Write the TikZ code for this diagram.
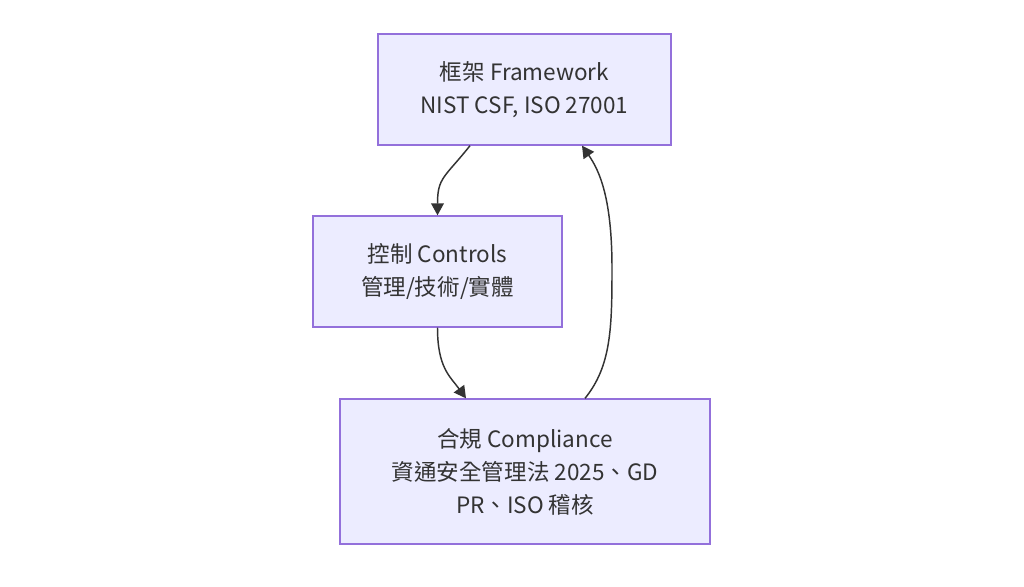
\documentclass[tikz,border=0pt]{standalone}
\usepackage{fontspec}
\setmainfont{Noto Sans CJK TC}
\usepackage{tikz}
\usetikzlibrary{arrows.meta,calc,positioning}
\definecolor{BoxFill}{HTML}{ECECFF}
\definecolor{BoxLine}{HTML}{9370DB}
\definecolor{InkGrey}{HTML}{333333}

\begin{document}
\begin{tikzpicture}[
    x=0.75pt, y=-0.75pt,
    stagebox/.style={
      draw=BoxLine,
      fill=BoxFill,
      line width=1pt,
      minimum height=83.25pt,
      align=center,
      text=InkGrey,
      font=\fontsize{16.9}{24.8}\selectfont
    },
    flow/.style={
      draw=InkGrey,
      line width=1.1pt,
      -{Triangle[length=9pt,width=9.5pt]}
    }
  ]
  \useasboundingbox[fill=white] (0,0) rectangle (1024,586);

  \node[stagebox, minimum width=219.75pt] (framework) at (524.5,89.5)
    {框架 Framework\\NIST CSF, ISO 27001};
  \node[stagebox, minimum width=186.75pt] (controls) at (437.5,271.5)
    {控制 Controls\\管理/技術/實體};
  \node[stagebox, minimum width=277.5pt, minimum height=108.75pt] (compliance) at (525,471.5)
    {合規 Compliance\\資通安全管理法 2025、GD\\PR、ISO 稽核};

  % framework -> controls -> compliance -> framework
  \draw[flow] ($(framework.south)+(-54.5,0)$)
    .. controls ($(framework.south)+(-80,32)$) and ($(controls.north)+(0,-38)$) .. (controls.north);
  \draw[flow] (controls.south)
    .. controls ($(controls.south)+(0,40)$) and ($(compliance.north)+(-75,-22)$) .. ($(compliance.north)+(-59,0)$);
  \draw[flow] ($(compliance.north)+(60,0)$)
    .. controls ($(compliance.north)+(86,-32)$) and ($(compliance.north)+(87,-70)$) .. ($(compliance.north)+(87,-130)$)
    .. controls ($(compliance.north)+(87,-200)$) and ($(framework.south)+(75,25)$) .. ($(framework.south)+(57.5,0)$);
\end{tikzpicture}
\end{document}
